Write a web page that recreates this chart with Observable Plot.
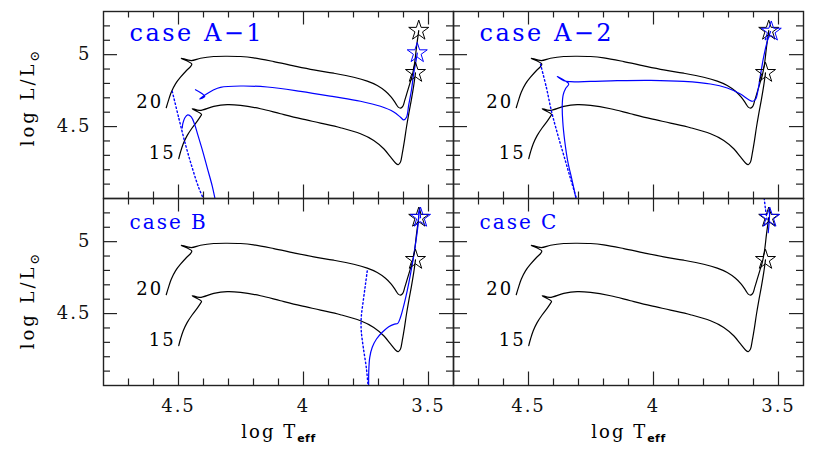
<!DOCTYPE html>
<html><head><meta charset="utf-8">
<script src="https://cdn.jsdelivr.net/npm/d3@7"></script>
<script src="https://cdn.jsdelivr.net/npm/@observablehq/plot@0.6"></script>
<style>
body{margin:0;background:#fff}
#chart{width:830px;height:460px}
.tl text{letter-spacing:2px}
.panlab text{letter-spacing:2.5px}
.panlab2 text{letter-spacing:2px}
.ylab text{letter-spacing:3px}
.xlab text{letter-spacing:2px}
.mlab text{letter-spacing:2px}
</style></head><body><div id="chart"></div>
<script>
// ---- axis ticks ----
const xMajor = [4.5, 4.0, 3.5];
const xMinor = [4.7, 4.6, 4.4, 4.3, 4.2, 4.1, 3.9, 3.8, 3.7, 3.6];
const yMajor = [4.5, 5.0];
const yMinor = [4.1, 4.2, 4.3, 4.4, 4.6, 4.7, 4.8, 4.9, 5.1, 5.2];

// ---- panels ----
const panelNames = ["case A\u22121", "case A\u22122", "case B", "case C"];
const panelCol = [0, 1, 0, 1];
const panelRow = [0, 0, 1, 1];

// ---- single-star tracks [log Teff, log L] ----
const track20 = [[4.549,4.631],[4.541,4.677],[4.529,4.739],[4.512,4.797],[4.492,4.843],[4.468,4.890],[4.452,4.917],[4.447,4.936],[4.489,4.975],[4.449,4.959],[4.412,4.975],[4.359,4.987],[4.305,4.989],[4.252,4.987],[4.199,4.978],[4.119,4.952],[4.039,4.922],[3.959,4.894],[3.879,4.871],[3.799,4.843],[3.745,4.816],[3.705,4.786],[3.672,4.746],[3.649,4.705],[3.632,4.663],[3.621,4.635],[3.612,4.628],[3.603,4.640],[3.595,4.682],[3.585,4.739],[3.575,4.797],[3.565,4.855],[3.556,4.936],[3.548,5.052],[3.539,5.167]];
const track15 = [[4.499,4.277],[4.492,4.323],[4.481,4.381],[4.465,4.439],[4.445,4.492],[4.425,4.538],[4.412,4.571],[4.408,4.585],[4.445,4.624],[4.415,4.612],[4.359,4.640],[4.305,4.652],[4.252,4.647],[4.172,4.624],[4.092,4.589],[4.012,4.555],[3.932,4.524],[3.852,4.492],[3.772,4.450],[3.719,4.404],[3.679,4.346],[3.652,4.289],[3.632,4.247],[3.621,4.236],[3.612,4.254],[3.605,4.312],[3.596,4.404],[3.588,4.497],[3.579,4.589],[3.569,4.682],[3.559,4.786],[3.552,4.874]];
const blackStars = [[3.539,5.167],[3.552,4.874]];

// ---- binary tracks per case ----
const caseA1Dotted = [[4.525,4.745],[4.499,4.560],[4.472,4.375],[4.445,4.213],[4.419,4.075],[4.396,3.982]];
const caseA1Rise = [[4.352,3.982],[4.365,4.086],[4.385,4.213],[4.405,4.340],[4.423,4.444],[4.436,4.518],[4.449,4.567],[4.463,4.581],[4.475,4.560],[4.483,4.518],[4.485,4.491]];
const caseA1Cross = [[4.432,4.756],[4.395,4.710],[4.415,4.692],[4.388,4.726],[4.359,4.756],[4.332,4.773],[4.252,4.782],[4.145,4.775],[4.012,4.745],[3.879,4.708],[3.772,4.676],[3.692,4.641],[3.639,4.602],[3.612,4.565],[3.599,4.546],[3.588,4.565],[3.579,4.652],[3.568,4.756],[3.559,4.872],[3.549,4.965],[3.545,5.011]];
const caseA2Dotted = [[4.452,4.934],[4.428,4.768],[4.408,4.606],[4.383,4.444],[4.356,4.283],[4.329,4.121],[4.305,3.982]];
const caseA2Solid = [[4.308,3.982],[4.325,4.121],[4.343,4.259],[4.355,4.398],[4.363,4.537],[4.365,4.652],[4.361,4.722],[4.352,4.763],[4.339,4.796],[4.359,4.823],[4.385,4.849],[4.359,4.819],[4.332,4.812],[4.252,4.814],[4.145,4.819],[4.012,4.821],[3.879,4.814],[3.772,4.796],[3.705,4.768],[3.652,4.726],[3.619,4.687],[3.603,4.676],[3.591,4.692],[3.581,4.763],[3.572,4.860],[3.559,4.988],[3.545,5.092],[3.532,5.161]];
const caseBDotted = [[3.745,4.797],[3.752,4.705],[3.761,4.589],[3.769,4.474],[3.769,4.381],[3.761,4.266],[3.749,4.127],[3.741,3.988],[3.739,3.95]];
const caseBSolid = [[3.739,3.95],[3.739,4.092],[3.735,4.196],[3.725,4.266],[3.708,4.323],[3.685,4.370],[3.659,4.409],[3.636,4.427],[3.623,4.432],[3.612,4.474],[3.599,4.555],[3.585,4.659],[3.572,4.774],[3.556,4.936],[3.543,5.098],[3.536,5.236],[3.532,5.167]];
const caseCDotted = [[3.559,5.33],[3.552,5.225],[3.545,5.144]];
const caseCSolid = [[3.541,5.063],[3.537,5.144],[3.535,5.225]];
const blueStars = [[3.545,5.011],[3.529,5.161],[3.532,5.167],[3.535,5.167]];

// ---- build tables ----
const FW = 350, FH = 187.5;
const toRows = (pts, extra) => pts.map(([T, L]) => ({T, L, ...extra}));
const blackRows = [...toRows(track20, {seg: "20"}), ...toRows(track15, {seg: "15"})];
const blueSegs = [
  [0, "a1d", true, caseA1Dotted], [0, "a1r", false, caseA1Rise], [0, "a1c", false, caseA1Cross],
  [1, "a2d", true, caseA2Dotted], [1, "a2s", false, caseA2Solid],
  [2, "bd", true, caseBDotted], [2, "bs", false, caseBSolid],
  [3, "cd", true, caseCDotted], [3, "cs", false, caseCSolid]
];
const blueRows = blueSegs.flatMap(([p, seg, dash, pts]) => toRows(pts, {seg, dash, col: panelCol[p], row: panelRow[p]}));
const panels = panelNames.map((name, i) => ({name, col: panelCol[i], row: panelRow[i]}));
const blackStarRows = toRows(blackStars, {});
const blueStarRows = blueStars.map(([T, L], i) => ({T, L, col: panelCol[i], row: panelRow[i]}));
const massLabels = [
  {T: track20[0][0], L: track20[0][1], text: "20"},
  {T: track15[0][0], L: track15[0][1], text: "15"}
];

const frameColor = "#222";
const svg = Plot.plot({
  width: 830, height: 460,
  marginLeft: 103, marginRight: 27, marginTop: 10, marginBottom: 75,
  x: {domain: [4.8, 3.4]},
  y: {domain: [4.0, 5.3]},
  fx: {domain: [0, 1], padding: 0, axis: null},
  fy: {domain: [0, 1], padding: 0, axis: null},
  style: {fontFamily: "'DejaVu Serif', serif", fontSize: "18px", background: "white", color: "#111"},
  marks: [
    // curves
    Plot.line(blackRows, {x: "T", y: "L", z: "seg", stroke: "black", strokeWidth: 1.2, curve: "catmull-rom", clip: true}),
    Plot.line(blueRows.filter(d => !d.dash), {x: "T", y: "L", z: "seg", fx: "col", fy: "row", stroke: "#0000ff", strokeWidth: 1.2, curve: "catmull-rom", clip: true}),
    Plot.line(blueRows.filter(d => d.dash), {x: "T", y: "L", z: "seg", fx: "col", fy: "row", stroke: "#0000ff", strokeWidth: 1.4, strokeDasharray: "1.5,2.5", curve: "catmull-rom", clip: true}),
    Plot.dot(blackStarRows, {x: "T", y: "L", symbol: "star", r: 6.3, stroke: "black", fill: "none", strokeWidth: 1}),
    Plot.dot(blueStarRows, {x: "T", y: "L", fx: "col", fy: "row", symbol: "star", r: 6.3, stroke: "#0000ff", fill: "none", strokeWidth: 1}),
    Plot.text(massLabels, {x: "T", y: "L", text: "text", textAnchor: "end", dx: -3, dy: -5, fontSize: 18, fill: "black", className: "mlab"}),
    // frame and inward ticks on all sides
    Plot.frame({stroke: frameColor, strokeWidth: 1.4}),
    Plot.tickX(xMajor, {x: d => d, insetTop: FH - 14, stroke: frameColor, strokeWidth: 1.2}),
    Plot.tickX(xMinor, {x: d => d, insetTop: FH - 7, stroke: frameColor, strokeWidth: 1.2}),
    Plot.tickX(xMajor, {x: d => d, insetBottom: FH - 14, stroke: frameColor, strokeWidth: 1.2}),
    Plot.tickX(xMinor, {x: d => d, insetBottom: FH - 7, stroke: frameColor, strokeWidth: 1.2}),
    Plot.tickY(yMajor, {y: d => d, insetRight: FW - 14, stroke: frameColor, strokeWidth: 1.2}),
    Plot.tickY(yMinor, {y: d => d, insetRight: FW - 7, stroke: frameColor, strokeWidth: 1.2}),
    Plot.tickY(yMajor, {y: d => d, insetLeft: FW - 14, stroke: frameColor, strokeWidth: 1.2}),
    Plot.tickY(yMinor, {y: d => d, insetLeft: FW - 7, stroke: frameColor, strokeWidth: 1.2}),
    // tick labels
    Plot.axisX(xMajor, {anchor: "bottom", tickSize: 0, tickPadding: 14, tickFormat: d => String(d), label: null, fontSize: 18, className: "tl"}),
    Plot.axisY(yMajor, {anchor: "left", tickSize: 0, tickPadding: 12, tickFormat: d => String(d), label: null, fontSize: 18, className: "tl"}),
    // panel labels
    Plot.text(panels.filter(d => d.row === 0), {text: "name", fx: "col", fy: "row", frameAnchor: "top-left", textAnchor: "start", lineAnchor: "bottom", dx: 26, dy: 29, fill: "#0000ff", fontSize: 24, className: "panlab"}),
    Plot.text(panels.filter(d => d.row === 1), {text: "name", fx: "col", fy: "row", frameAnchor: "top-left", textAnchor: "start", lineAnchor: "bottom", dx: 26, dy: 30, fill: "#0000ff", fontSize: 20, className: "panlab2"}),
    // axis titles
    Plot.text([{col: 0, row: 0}], {fx: "col", fy: "row", text: () => "log L/L", frameAnchor: "left", textAnchor: "middle", lineAnchor: "middle", dx: -75, dy: -8, rotate: -90, fontSize: 18, fill: "black", className: "ylab"}),
    Plot.text([{col: 0, row: 1}], {fx: "col", fy: "row", text: () => "log L/L", frameAnchor: "left", textAnchor: "middle", lineAnchor: "middle", dx: -75, dy: 8, rotate: -90, fontSize: 18, fill: "black", className: "ylab"}),
    Plot.text([{col: 0, row: 1}, {col: 1, row: 1}], {fx: "col", fy: "row", text: () => "log T", frameAnchor: "bottom", textAnchor: "middle", dy: 52, fontSize: 18, fill: "black", className: "xlab"})
  ]
});

// subscripts as real text
d3.select(svg).selectAll(".ylab text").each(function () {
  const t = d3.select(this);
  t.text(null);
  t.append("tspan").text("log L/L");
  t.append("tspan").attr("font-size", 13).attr("dy", "0.35em").text("\u2299");
});
d3.select(svg).selectAll(".xlab text").each(function () {
  const t = d3.select(this);
  t.text(null);
  t.append("tspan").text("log T");
  t.append("tspan").attr("font-family", "'DejaVu Sans', sans-serif").attr("font-weight", "bold").attr("font-size", 11).attr("dy", "0.45em").attr("letter-spacing", "0.5px").text("eff");
});

document.getElementById("chart").appendChild(svg);
</script>
</body></html>
